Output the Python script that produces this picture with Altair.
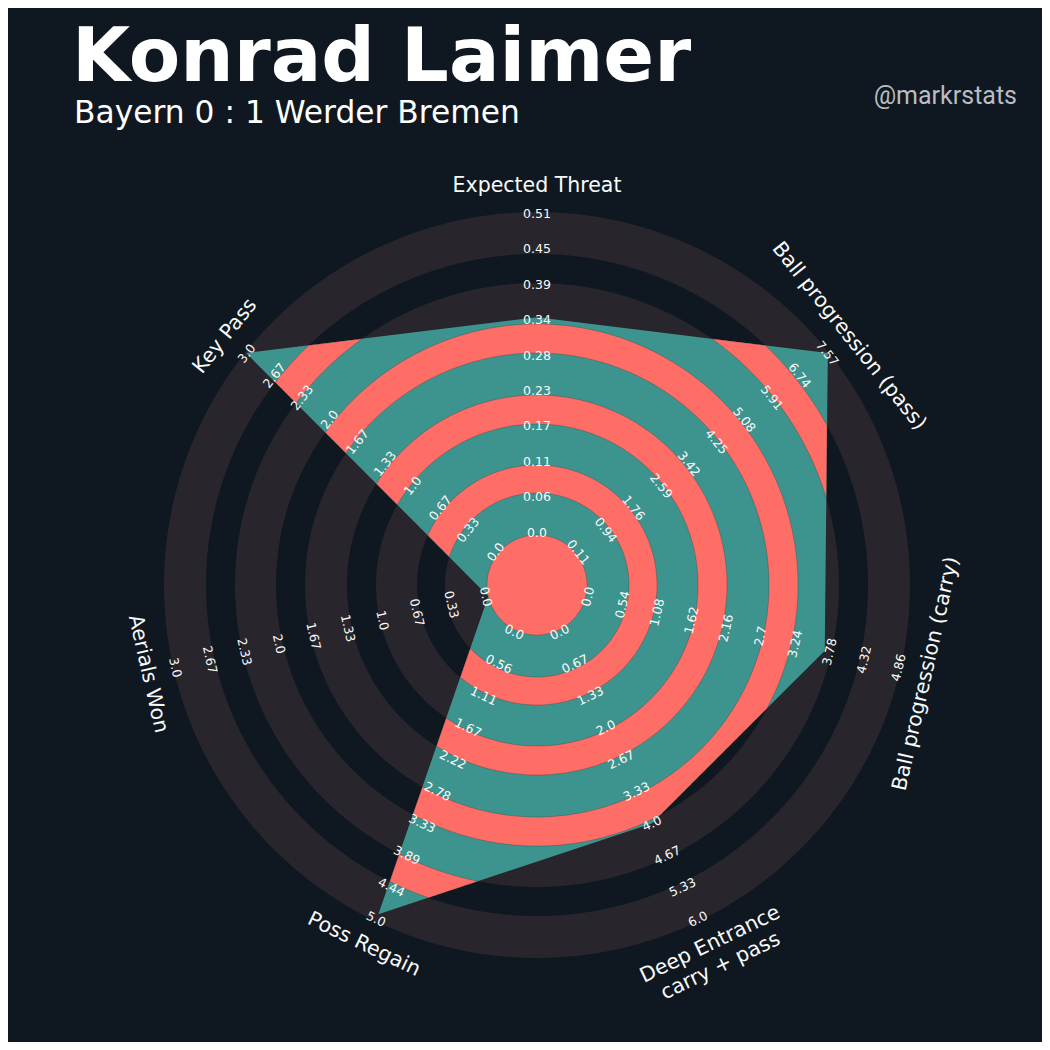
import math
import pandas as pd
import altair as alt

# ------------------------------------------------------------------ data
params = ["Expected Threat", "Ball progression (pass)", "Ball progression (carry)",
          "Deep Entrance\ncarry + pass", "Poss Regain", "Aerials Won", "Key Pass"]
range_low = [0.0, 0.11, 0.0, 0.0, 0.0, 0.0, 0.0]
range_high = [0.51, 7.57, 4.86, 6.0, 5.0, 3.0, 3.0]
player_values = [0.345, 7.57, 3.7, 4.0, 4.9, 0.0, 3.0]

ticks_xt = ["0.0", "0.06", "0.11", "0.17", "0.23", "0.28", "0.34", "0.39", "0.45", "0.51"]
ticks_prog_pass = ["0.11", "0.94", "1.76", "2.59", "3.42", "4.25", "5.08", "5.91", "6.74", "7.57"]
ticks_prog_carry = ["0.0", "0.54", "1.08", "1.62", "2.16", "2.7", "3.24", "3.78", "4.32", "4.86"]
ticks_deep = ["0.0", "0.67", "1.33", "2.0", "2.67", "3.33", "4.0", "4.67", "5.33", "6.0"]
ticks_regain = ["0.0", "0.56", "1.11", "1.67", "2.22", "2.78", "3.33", "3.89", "4.44", "5.0"]
ticks_aerials = ["0.0", "0.33", "0.67", "1.0", "1.33", "1.67", "2.0", "2.33", "2.67", "3.0"]
ticks_keypass = ["0.0", "0.33", "0.67", "1.0", "1.33", "1.67", "2.0", "2.33", "2.67", "3.0"]
tick_labels = [ticks_xt, ticks_prog_pass, ticks_prog_carry, ticks_deep,
               ticks_regain, ticks_aerials, ticks_keypass]

title_text = "Konrad Laimer"
subtitle_text = "Bayern 0 : 1 Werder Bremen"
credit_text = "@markrstats"

# ------------------------------------------------------------------ style / layout
BG = "#0f1820"
RING = "#28252c"
TEAL = "#3d948e"
RED = "#fe6e66"
TXT = "#fafafa"
FONT = "DejaVu Sans"

W, H = 1034, 1034
CX, CY = 529, 577            # radar centre inside the view
R_MIN, R_MAX = 50.0, 372.0   # radial extent used by the data
CENTER_R = 50.0
WIDE = [(50, 92), (120, 161), (190, 232), (261, 302), (331, 373)]
NARROW = [(92, 120), (161, 190), (232, 261), (302, 331)]
TICK_R0, TICK_STEP = 52.5, 35.4
PARAM_R = 399.0

N = len(params)
axis_deg = [90 - i * 360 / N for i in range(N)]
axis_rad = [math.radians(a) for a in axis_deg]


def text_angle(theta_deg):
    rot = theta_deg - 90
    rot = (rot + 180) % 360 - 180
    if rot > 90:
        rot -= 180
    elif rot < -90:
        rot += 180
    return (-rot) % 360


def pt(r, th):
    return [round(r * math.cos(th), 3), round(r * math.sin(th), 3)]


# polygon vertices (scaled through each parameter's range)
vr = [R_MIN + (v - lo) / (hi - lo) * (R_MAX - R_MIN)
      for v, lo, hi in zip(player_values, range_low, range_high)]
verts = [(r * math.cos(t), r * math.sin(t)) for r, t in zip(vr, axis_rad)]


def poly_r(th):
    dx, dy = math.cos(th), math.sin(th)
    best = None
    for i in range(N):
        px, py = verts[i]
        qx, qy = verts[(i + 1) % N]
        ex, ey = qx - px, qy - py
        den = dx * ey - dy * ex
        if abs(den) < 1e-12:
            continue
        t = (px * ey - py * ex) / den
        s = (px * dy - py * dx) / den
        if t > 1e-9 and -1e-9 <= s <= 1 + 1e-9:
            if best is None or t < best:
                best = t
    return best


TWO_PI = 2 * math.pi
base_grid = sorted(set([k * TWO_PI / 1440 for k in range(1440)] +
                       [a % TWO_PI for a in axis_rad]))


def crossings(level, grid):
    out = []
    n = len(grid)
    for i in range(n):
        a0 = grid[i]
        a1 = grid[(i + 1) % n] + (TWO_PI if i == n - 1 else 0)
        f0 = poly_r(a0) - level
        f1 = poly_r(a1) - level
        if (f0 < 0) != (f1 < 0):
            lo, hi = a0, a1
            for _ in range(60):
                mid = (lo + hi) / 2
                if ((poly_r(mid) - level) < 0) == (f0 < 0):
                    lo = mid
                else:
                    hi = mid
            out.append(((lo + hi) / 2) % TWO_PI)
    return out


def ring_pieces(a, b):
    grid = sorted(set(base_grid + crossings(a, base_grid) + crossings(b, base_grid)))
    rs = [poly_r(t) for t in grid]
    inside = [r >= a - 1e-6 for r in rs]
    if all(inside):
        outer = [pt(min(b, r), t) for t, r in zip(grid, rs)]
        outer.append(outer[0])
        hole = [pt(a, t) for t in reversed(grid)]
        hole.append(hole[0])
        return [[outer, hole]]
    start = inside.index(False)
    order = list(range(start, len(grid))) + list(range(0, start)) + [start]
    pieces, run = [], []
    for idx in order:
        if inside[idx]:
            run.append(idx)
        else:
            if len(run) >= 2 and max(rs[i] for i in run) - a > 0.01:
                outer = [pt(min(b, rs[i]), grid[i]) for i in run]
                inner = [pt(a, grid[i]) for i in reversed(run)]
                ring = outer + inner + [outer[0]]
                pieces.append([ring])
            run = []
    return pieces


def circle(r, reverse=False):
    g = [k * TWO_PI / 720 for k in range(720)]
    if reverse:
        g = g[::-1]
    c = [pt(r, t) for t in g]
    return c + [c[0]]


def feature(rings):
    return {"type": "Feature", "properties": {},
            "geometry": {"type": "Polygon", "coordinates": rings}}


ring_feats = [feature([circle(b), circle(a, reverse=True)]) for a, b in WIDE]
poly_feats = [feature([[list(map(lambda z: round(z, 3), v)) for v in verts] +
                       [[round(verts[0][0], 3), round(verts[0][1], 3)]]])]
red_feats = [feature(p) for a, b in NARROW for p in ring_pieces(a, b)]
red_feats.append(feature([circle(CENTER_R)]))

proj = dict(type="identity", reflectY=True, scale=1, translate=[CX, CY])


def geo_layer(feats, fill, stroke_width=0.0):
    ch = alt.Chart(alt.Data(values=feats))
    if stroke_width > 0:
        mk = ch.mark_geoshape(fill=fill, opacity=1, stroke=BG, strokeWidth=stroke_width,
                              strokeOpacity=0.45)
    else:
        mk = ch.mark_geoshape(fill=fill, opacity=1, strokeWidth=0)
    return mk.project(**proj)


# tick labels along each axis
rows = []
for i in range(N):
    for k, lab in enumerate(tick_labels[i]):
        r = TICK_R0 + k * TICK_STEP
        x, y = pt(r, axis_rad[i])
        rows.append({"lon": x, "lat": y, "text": lab, "angle": text_angle(axis_deg[i])})
tick_df = pd.DataFrame(rows)

prow = []
for i in range(N):
    x, y = pt(PARAM_R, axis_rad[i])
    prow.append({"lon": x, "lat": y, "text": params[i], "angle": text_angle(axis_deg[i])})
param_df = pd.DataFrame(prow)

tick_layer = alt.Chart(tick_df).mark_text(
    font=FONT, fontSize=12.5, color=TXT, align="center", baseline="middle"
).encode(
    longitude="lon:Q", latitude="lat:Q", text="text:N",
    angle=alt.Angle("angle:Q", scale=None)
).project(**proj)

param_layer = alt.Chart(param_df).mark_text(
    font=FONT, fontSize=20.5, color=TXT, align="center", baseline="middle",
    lineBreak="\n", lineHeight=24
).encode(
    longitude="lon:Q", latitude="lat:Q", text="text:N",
    angle=alt.Angle("angle:Q", scale=None)
).project(**proj)

title_layer = alt.Chart(pd.DataFrame({"t": [title_text]})).mark_text(
    font=FONT, fontSize=75, fontWeight="bold", color="#ffffff",
    align="left", baseline="alphabetic"
).encode(x=alt.value(64), y=alt.value(73), text="t:N")

subtitle_layer = alt.Chart(pd.DataFrame({"t": [subtitle_text]})).mark_text(
    font=FONT, fontSize=31.3, color="#ffffff", align="left", baseline="alphabetic"
).encode(x=alt.value(66), y=alt.value(115), text="t:N")

credit_layer = alt.Chart(pd.DataFrame({"t": [credit_text]})).mark_text(
    font="Roboto", fontSize=25, color="#b9bdc1", align="right", baseline="alphabetic"
).encode(x=alt.value(1009), y=alt.value(96), text="t:N")

chart = alt.layer(
    geo_layer(ring_feats, RING),
    geo_layer(poly_feats, TEAL),
    geo_layer(red_feats, RED, stroke_width=0.5),
    tick_layer,
    param_layer,
    title_layer,
    subtitle_layer,
    credit_layer,
).properties(
    width=W, height=H, padding=0,
    autosize=alt.AutoSizeParams(type="none"),
    background=BG,
).configure_view(strokeWidth=0)

chart.save("out.html", embed_options={"renderer": "svg", "actions": False})
